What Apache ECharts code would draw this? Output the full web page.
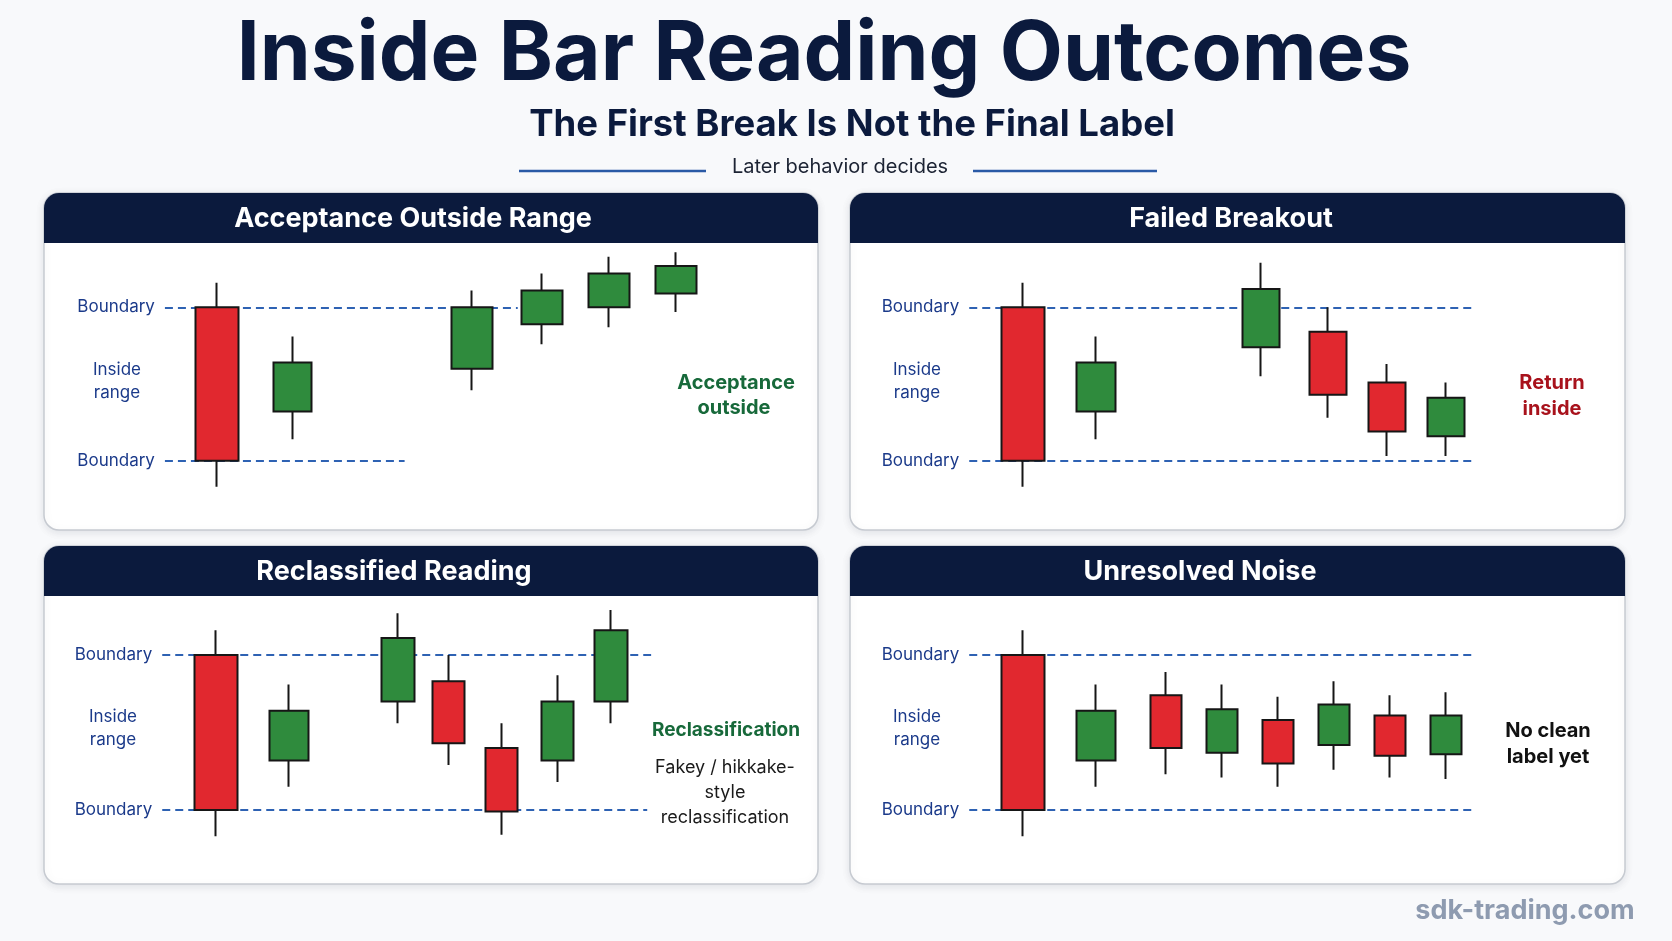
<!DOCTYPE html>
<html>
<head>
<meta charset="utf-8">
<title>Inside Bar Reading Outcomes</title>
<script src="https://cdn.jsdelivr.net/npm/echarts@6/dist/echarts.min.js"></script>
<style>
  html, body { margin: 0; padding: 0; background: #f8f9fb; }
  #chart { width: 1672px; height: 941px; }
</style>
</head>
<body>
<div id="chart"></div>
<script>
// range edges of the mother bar (lower = 0, upper = 100)
const boundaryLevels = [0, 100];

// candles: [bar position, open, close, low, high]
const acceptanceBars = [
  [0, 100, 0, -17, 116],
  [1.35, 32, 64, 14, 81],
  [4.55, 60, 100, 46, 111],
  [5.8, 89, 111, 76, 122],
  [7, 100, 122, 87, 133],
  [8.2, 109, 127, 97, 136]
];
const failedBars = [
  [0, 100, 0, -17, 116],
  [1.3, 32, 64, 14, 81],
  [4.25, 74, 112, 55, 129],
  [5.45, 84, 43, 28, 100],
  [6.5, 51, 19, 3, 63],
  [7.55, 16, 41, 3, 51]
];
const reclassBars = [
  [0, 100, 0, -17, 116],
  [1.3, 32, 64, 15, 81],
  [3.25, 70, 111, 56, 127],
  [4.15, 83, 43, 29, 100],
  [5.1, 40, -1, -16, 56],
  [6.1, 32, 70, 18, 87],
  [7.05, 70, 116, 56, 129]
];
const noiseBars = [
  [0, 100, 0, -17, 116],
  [1.3, 32, 64, 15, 81],
  [2.55, 74, 40, 23, 89],
  [3.55, 37, 65, 21, 81],
  [4.55, 58, 30, 15, 73],
  [5.55, 42, 68, 26, 83],
  [6.55, 61, 35, 21, 74],
  [7.55, 36, 61, 20, 76]
];

const NAVY = '#0b1a3d';
const LABEL_BLUE = '#1b3a8a';
const GREEN_TXT = '#17693a';
const RED_TXT = '#a8121c';

const panels = [
  {
    title: 'Acceptance Outside Range', bars: acceptanceBars, followWidth: 41,
    box: [44, 193, 774, 337], titleX: 413,
    grid: { left: 49, top: 246, height: 276 },
    lineStart: -0.93, upperEnd: 5.37, lowerEnd: 3.35,
    insideX: 117, insideY: 370,
    notes: [
      { text: 'Acceptance', x: 736, y: 383, color: GREEN_TXT, weight: 'bold', size: 20 },
      { text: 'outside', x: 734, y: 408, color: GREEN_TXT, weight: 'bold', size: 20 }
    ]
  },
  {
    title: 'Failed Breakout', bars: failedBars, followWidth: 38,
    box: [850, 193, 775, 337], titleX: 1231,
    grid: { left: 855, top: 246, height: 276 },
    lineStart: -0.96, upperEnd: 8.04, lowerEnd: 8.04,
    insideX: 917, insideY: 370,
    notes: [
      { text: 'Return', x: 1552, y: 383, color: RED_TXT, weight: 'bold', size: 20 },
      { text: 'inside', x: 1552, y: 409, color: RED_TXT, weight: 'bold', size: 20 }
    ]
  },
  {
    title: 'Reclassified Reading', bars: reclassBars, followWidth: 33,
    box: [44, 546, 774, 338], titleX: 394,
    grid: { left: 48, top: 593, height: 279 },
    lineStart: -0.96, upperEnd: 7.77, lowerEnd: 7.7,
    insideX: 113, insideY: 717,
    notes: [
      { text: 'Reclassification', x: 726, y: 730, color: GREEN_TXT, weight: 'bold', size: 19 },
      { text: 'Fakey / hikkake-', x: 725, y: 768, color: '#1a1a1a', weight: 'normal', size: 18 },
      { text: 'style', x: 725, y: 793, color: '#1a1a1a', weight: 'normal', size: 18 },
      { text: 'reclassification', x: 725, y: 818, color: '#1a1a1a', weight: 'normal', size: 18 }
    ]
  },
  {
    title: 'Unresolved Noise', bars: noiseBars, followWidth: 32,
    box: [850, 546, 775, 338], titleX: 1200,
    grid: { left: 855, top: 593, height: 279 },
    lineStart: -0.96, upperEnd: 8.04, lowerEnd: 8.04,
    insideX: 917, insideY: 717,
    notes: [
      { text: 'No clean', x: 1548, y: 731, color: '#111111', weight: 'bold', size: 20 },
      { text: 'label yet', x: 1548, y: 757, color: '#111111', weight: 'bold', size: 20 }
    ]
  }
];

const chart = echarts.init(document.getElementById('chart'));

const grids = [], xAxes = [], yAxes = [], series = [];
const graphics = [
  // heading
  { type: 'text', x: 824, y: 55, z: 0, style: { text: 'Inside Bar Reading Outcomes', fill: NAVY, font: 'bold 82px Inter', align: 'center', verticalAlign: 'middle' } },
  { type: 'text', x: 852, y: 125, z: 0, style: { text: 'The First Break Is Not the Final Label', fill: NAVY, font: 'bold 36.5px Inter', align: 'center', verticalAlign: 'middle' } },
  { type: 'text', x: 840, y: 167, z: 0, style: { text: 'Later behavior decides', fill: '#1c2333', font: '20px Inter', align: 'center', verticalAlign: 'middle' } },
  { type: 'line', z: 0, shape: { x1: 519, y1: 171, x2: 706, y2: 171 }, style: { stroke: '#2a5aa6', lineWidth: 2.5 } },
  { type: 'line', z: 0, shape: { x1: 973, y1: 171, x2: 1157, y2: 171 }, style: { stroke: '#2a5aa6', lineWidth: 2.5 } },
  { type: 'text', x: 1525, y: 911, z: 0, style: { text: 'sdk-trading.com', fill: '#8e9bb0', font: 'bold 27px Inter', align: 'center', verticalAlign: 'middle' } }
];

const candleStyle = {
  color: '#2f8b3d', color0: '#e1282f',
  borderColor: '#161616', borderColor0: '#161616', borderWidth: 2
};

panels.forEach((p, i) => {
  const [bx, by, bw, bh] = p.box;
  graphics.push(
    { type: 'rect', z: 0, shape: { x: bx, y: by, width: bw, height: bh, r: 15 },
      style: { fill: '#ffffff', stroke: '#c6cad1', lineWidth: 1.5, shadowBlur: 8, shadowColor: 'rgba(20,30,60,0.10)', shadowOffsetY: 2 } },
    { type: 'rect', z: 0, shape: { x: bx, y: by, width: bw, height: 50, r: [15, 15, 0, 0] }, style: { fill: NAVY } },
    { type: 'text', x: p.titleX, y: by + 26, z: 0, style: { text: p.title, fill: '#ffffff', font: 'bold 27px Inter', align: 'center', verticalAlign: 'middle' } },
    { type: 'text', x: p.insideX, y: p.insideY, z: 0, style: { text: 'Inside', fill: LABEL_BLUE, font: '17px Inter', align: 'center', verticalAlign: 'middle' } },
    { type: 'text', x: p.insideX, y: p.insideY + 23, z: 0, style: { text: 'range', fill: LABEL_BLUE, font: '17px Inter', align: 'center', verticalAlign: 'middle' } }
  );
  p.notes.forEach(n => {
    graphics.push({ type: 'text', x: n.x, y: n.y, z: 0,
      style: { text: n.text, fill: n.color, font: n.weight + ' ' + n.size + 'px Inter', align: 'center', verticalAlign: 'middle' } });
  });

  grids.push({ left: p.grid.left, top: p.grid.top, width: 728, height: p.grid.height });
  xAxes.push({ type: 'value', gridIndex: i, min: -3, max: 10, show: false });
  yAxes.push({ type: 'value', gridIndex: i, min: -40, max: 140, show: false });

  const groups = [
    { data: p.bars.slice(0, 1), width: 44 },
    { data: p.bars.slice(1, 2), width: 39 },
    { data: p.bars.slice(2), width: p.followWidth }
  ];
  groups.forEach((g, k) => {
    const s = {
      type: 'candlestick', xAxisIndex: i, yAxisIndex: i, z: 2,
      barWidth: g.width, data: g.data, itemStyle: candleStyle, silent: true
    };
    if (k === 0) {
      const [lo, hi] = boundaryLevels;
      s.markLine = {
        z: 1, silent: true, symbol: 'none',
        lineStyle: { color: '#2e62b3', width: 2, type: [8, 5] },
        label: { show: true, position: 'start', distance: 10, formatter: 'Boundary',
          color: LABEL_BLUE, fontSize: 17, fontFamily: 'Inter' },
        emphasis: { disabled: true },
        data: [
          [{ coord: [p.lineStart, hi] }, { coord: [p.upperEnd, hi] }],
          [{ coord: [p.lineStart, lo] }, { coord: [p.lowerEnd, lo] }]
        ]
      };
    }
    series.push(s);
  });
});

chart.setOption({
  animation: false,
  backgroundColor: '#f8f9fb',
  grid: grids,
  xAxis: xAxes,
  yAxis: yAxes,
  graphic: { elements: graphics },
  series: series
});
</script>
</body>
</html>
